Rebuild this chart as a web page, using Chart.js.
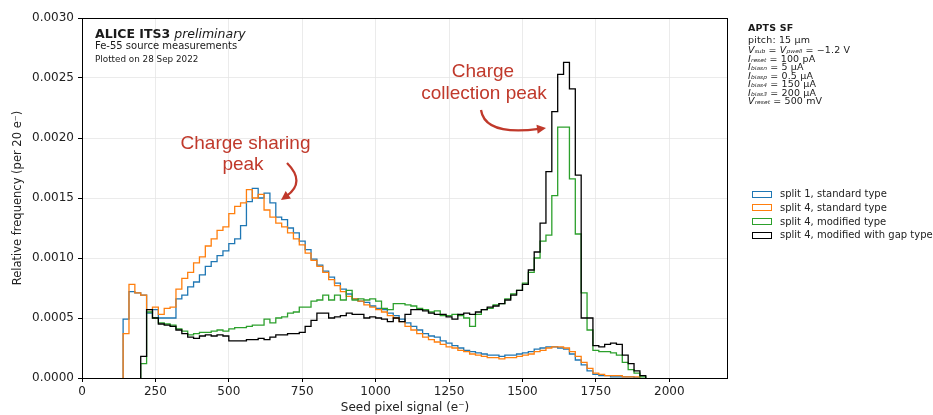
<!DOCTYPE html>
<html><head><meta charset="utf-8">
<script src="https://cdn.jsdelivr.net/npm/chart.js@4/dist/chart.umd.min.js"></script>
<style>
body{margin:0;background:#fff;}
#wrap{position:relative;width:933px;height:415px;overflow:hidden;font-family:"DejaVu Sans",sans-serif;}
canvas{position:absolute;left:0;top:0;}
.t{position:absolute;white-space:nowrap;color:#1a1a1a;line-height:1;font-family:"DejaVu Sans",sans-serif;}
.p{font-size:9.5px;letter-spacing:0.15px;transform:scaleY(0.88);transform-origin:0 50%;}
.ann{position:absolute;white-space:nowrap;color:#c0392b;font-family:"Liberation Sans",Arial,sans-serif;font-size:19px;line-height:1;transform:translateX(-50%);}
sub{font-size:6px;vertical-align:-1px;line-height:0;font-style:italic;letter-spacing:0;}
.leg{position:absolute;left:752px;white-space:nowrap;font-size:10px;line-height:1;color:#222;}
.leg span.sw{display:inline-block;width:18px;height:5px;border:1.3px solid;vertical-align:middle;margin-right:8px;}
</style></head>
<body>
<div id="wrap">
<canvas id="c" width="933" height="415"></canvas>
<div class="t" style="left:95px;top:27.5px;font-size:12.5px;"><b>ALICE ITS3</b> <i>preliminary</i></div>
<div class="t" style="left:95px;top:41px;font-size:10px;">Fe-55 source measurements</div>
<div class="t" style="left:95px;top:54.5px;font-size:8.8px;">Plotted on 28 Sep 2022</div>

<div class="t p" style="left:748px;top:23px;"><b>APTS SF</b></div>
<div class="t p" style="left:748px;top:34.5px;">pitch: 15 µm</div>
<div class="t p" style="left:748px;top:44.5px;"><i>V</i><sub>sub</sub> = <i>V</i><sub>pwell</sub> = −1.2 V</div>
<div class="t p" style="left:748px;top:53.5px;"><i>I</i><sub>reset</sub> = 100 pA</div>
<div class="t p" style="left:748px;top:62px;"><i>I</i><sub>biasn</sub> = 5 µA</div>
<div class="t p" style="left:748px;top:70.5px;"><i>I</i><sub>biasp</sub> = 0.5 µA</div>
<div class="t p" style="left:748px;top:79px;"><i>I</i><sub>bias4</sub> = 150 µA</div>
<div class="t p" style="left:748px;top:87.5px;"><i>I</i><sub>bias3</sub> = 200 µA</div>
<div class="t p" style="left:748px;top:96px;"><i>V</i><sub>reset</sub> = 500 mV</div>

<div id="legend"></div>

<div class="ann" style="left:245.5px;top:132.5px;">Charge sharing</div>
<div class="ann" style="left:243px;top:153.5px;">peak</div>
<div class="ann" style="left:483px;top:61px;">Charge</div>
<div class="ann" style="left:484px;top:82.5px;">collection peak</div>
</div>
<script>
// ---- data (relative frequency per 20 e- bin) ----
const BIN = 20;               // bin width in electrons
const tickValuesX = [0, 250, 500, 750, 1000, 1250, 1500, 1750, 2000];
const tickValuesY = [0, 0.0005, 0.0010, 0.0015, 0.0020, 0.0025, 0.0030];
const seriesLabels = ['split 1, standard type', 'split 4, standard type', 'split 4, modified type', 'split 4, modified with gap type'];
const seriesColors = ['#1f77b4', '#ff7f0e', '#2ca02c', '#000000'];

const split1StdStart = 140;
const split1Std = [
0.00049,0.00072,0.00071,0.00069,0.00054,0.00057,0.00050,0.00050,0.00050,0.00066,
0.00069,0.00076,0.00080,0.00086,0.00093,0.00097,0.00102,0.00106,0.00112,0.00116,
0.00127,0.00147,0.00158,0.00150,0.00154,0.00146,0.00134,0.00132,0.00125,0.00121,
0.00114,0.00107,0.00099,0.00094,0.00089,0.00084,0.00079,0.00074,0.00070,0.00066,
0.00064,0.00063,0.00060,0.00058,0.00057,0.00054,0.00052,0.00049,0.00046,0.00043,
0.00040,0.00037,0.00035,0.00034,0.00031,0.00029,0.00027,0.00025,0.00023,0.00022,
0.00021,0.00020,0.00019,0.00019,0.00018,0.00019,0.00019,0.00020,0.00021,0.00022,
0.00024,0.00025,0.00026,0.00026,0.00025,0.00024,0.00020,0.00015,0.00011,0.00006,
0.00003,0.00002,0.00002,0.00001,0.00001,0.00001,0.00001,0.00000];

const split4StdStart = 140;
const split4Std = [
0.00037,0.00078,0.00071,0.00069,0.00057,0.00059,0.00053,0.00058,0.00059,0.00074,
0.00083,0.00088,0.00096,0.00101,0.00110,0.00116,0.00123,0.00126,0.00137,0.00143,
0.00146,0.00157,0.00150,0.00153,0.00140,0.00134,0.00129,0.00126,0.00121,0.00116,
0.00111,0.00104,0.00098,0.00093,0.00088,0.00082,0.00077,0.00072,0.00068,0.00066,
0.00064,0.00061,0.00059,0.00057,0.00055,0.00052,0.00050,0.00047,0.00043,0.00040,
0.00037,0.00034,0.00032,0.00030,0.00028,0.00026,0.00025,0.00023,0.00022,0.00020,
0.00019,0.00018,0.00017,0.00017,0.00016,0.00017,0.00017,0.00018,0.00019,0.00020,
0.00022,0.00023,0.00025,0.00026,0.00026,0.00025,0.00022,0.00018,0.00013,0.00008,
0.00004,0.00003,0.00002,0.00002,0.00002,0.00001,0.00001,0.00001];

const split4ModStart = 200;
const split4Mod = [
0.00012,0.00055,0.00050,0.00046,0.00045,0.00044,0.00041,0.00039,0.00036,0.00037,
0.00038,0.00038,0.00039,0.00040,0.00039,0.00041,0.00042,0.00042,0.00043,0.00044,
0.00044,0.00049,0.00046,0.00050,0.00051,0.00054,0.00055,0.00059,0.00059,0.00064,
0.00065,0.00069,0.00065,0.00069,0.00065,0.00073,0.00065,0.00066,0.00065,0.00066,
0.00064,0.00058,0.00057,0.00062,0.00062,0.00061,0.00060,0.00058,0.00057,0.00055,
0.00056,0.00052,0.00052,0.00053,0.00052,0.00050,0.00043,0.00053,0.00057,0.00058,
0.00061,0.00062,0.00066,0.00070,0.00073,0.00079,0.00088,0.00100,0.00114,0.00119,
0.00152,0.00209,0.00209,0.00166,0.00120,0.00071,0.00040,0.00023,0.00022,0.00022,
0.00021,0.00019,0.00013,0.00007,0.00004,0.00001];

const split4GapStart = 200;
const split4Gap = [
0.00018,0.00057,0.00050,0.00045,0.00044,0.00043,0.00040,0.00037,0.00034,0.00033,
0.00035,0.00036,0.00035,0.00036,0.00035,0.00031,0.00031,0.00031,0.00032,0.00032,
0.00033,0.00032,0.00034,0.00036,0.00036,0.00037,0.00037,0.00038,0.00043,0.00048,
0.00054,0.00054,0.00050,0.00051,0.00052,0.00054,0.00053,0.00053,0.00050,0.00051,
0.00050,0.00049,0.00047,0.00050,0.00047,0.00053,0.00057,0.00057,0.00056,0.00054,
0.00053,0.00053,0.00051,0.00049,0.00053,0.00054,0.00053,0.00055,0.00057,0.00059,
0.00060,0.00062,0.00065,0.00069,0.00073,0.00078,0.00090,0.00105,0.00129,0.00172,
0.00222,0.00253,0.00263,0.00241,0.00169,0.00050,0.00050,0.00027,0.00026,0.00028,
0.00029,0.00028,0.00019,0.00012,0.00006,0.00002];

// ---- build step-histogram outlines (bin edges) ----
function steps(start, vals){
  const pts = [{x:start, y:0}];
  vals.forEach((v,i)=>pts.push({x:start + i*BIN, y:v}));
  pts.push({x:start + vals.length*BIN, y:0});
  return pts;
}
const seriesData = [
  steps(split1StdStart, split1Std),
  steps(split4StdStart, split4Std),
  steps(split4ModStart, split4Mod),
  steps(split4GapStart, split4Gap)
];

// HTML legend
const legTops = [189, 202.5, 216.5, 230];
document.getElementById('legend').innerHTML = seriesLabels.map((l,i)=>
  `<div class="leg" style="top:${legTops[i]}px;"><span class="sw" style="border-color:${seriesColors[i]}"></span>${l}</div>`).join('');

const framePlugin = {
  id:'frame',
  afterDatasetsDraw(chart){
    const {ctx, chartArea:a} = chart;
    ctx.save();
    ctx.strokeStyle = '#000'; ctx.lineWidth = 1;
    ctx.strokeRect(Math.round(a.left)+0.5, Math.round(a.top)+0.5, Math.round(a.right-a.left)-1, Math.round(a.bottom-a.top));
    ctx.restore();
  },
  afterDraw(chart){
    const ctx = chart.ctx;
    const red = '#c0392b';
    function arrow(p0, c, p1){
      ctx.save();
      ctx.strokeStyle = red; ctx.fillStyle = red; ctx.lineWidth = 2.3;
      const ang = Math.atan2(p1[1]-c[1], p1[0]-c[0]);
      const L = 9, W = 4.5;
      const bx = p1[0] - L*Math.cos(ang), by = p1[1] - L*Math.sin(ang);
      ctx.beginPath(); ctx.moveTo(p0[0],p0[1]); ctx.quadraticCurveTo(c[0],c[1],bx+2*Math.cos(ang),by+2*Math.sin(ang)); ctx.stroke();
      ctx.beginPath();
      ctx.moveTo(p1[0],p1[1]);
      ctx.lineTo(bx + W*Math.sin(ang), by - W*Math.cos(ang));
      ctx.lineTo(bx - W*Math.sin(ang), by + W*Math.cos(ang));
      ctx.closePath(); ctx.fill();
      ctx.restore();
    }
    arrow([287,163],[306,182],[281,200]);
    arrow([481,110],[485,136],[546,128]);
  }
};

new Chart(document.getElementById('c'), {
  type:'line',
  data:{datasets: seriesData.map((d,i)=>({
    label: seriesLabels[i], data: d, borderColor: seriesColors[i], backgroundColor: seriesColors[i],
    borderWidth: 1.3, stepped: 'before', pointRadius: 0, fill: false, order: 3-i
  }))},
  options:{
    responsive:false, animation:false, devicePixelRatio:1,
    layout:{padding:{top:18,right:205,left:0,bottom:0}},
    plugins:{legend:{display:false}, tooltip:{enabled:false}},
    scales:{
      x:{type:'linear', min:0, max:2200,
        afterBuildTicks: s=>{ s.ticks = tickValuesX.map(v=>({value:v})); },
        afterFit: s=>{ s.height = 37; },
        ticks:{color:'#222', font:{family:'DejaVu Sans', size:12}, padding:3, maxRotation:0, autoSkip:false, callback:v=>String(v)},
        grid:{color:'#e6e6e6', lineWidth:0.8, tickColor:'#000', tickLength:4, tickWidth:1},
        border:{display:false},
        title:{display:true, text:'Seed pixel signal (e⁻)', color:'#222', font:{family:'DejaVu Sans', size:12}, padding:{top:0,bottom:0}}
      },
      y:{min:0, max:0.003,
        afterBuildTicks: s=>{ s.ticks = tickValuesY.map(v=>({value:v})); },
        afterFit: s=>{ s.width = 82; },
        ticks:{color:'#222', font:{family:'DejaVu Sans', size:12}, padding:4, callback:v=>Number(v).toFixed(4)},
        grid:{color:'#e6e6e6', lineWidth:0.8, tickColor:'#000', tickLength:4, tickWidth:1},
        border:{display:false},
        title:{display:true, text:'Relative frequency (per 20 e⁻)', color:'#222', font:{family:'DejaVu Sans', size:11.5}, padding:{top:11,bottom:0}}
      }
    }
  },
  plugins:[framePlugin]
});
</script>
</body></html>
